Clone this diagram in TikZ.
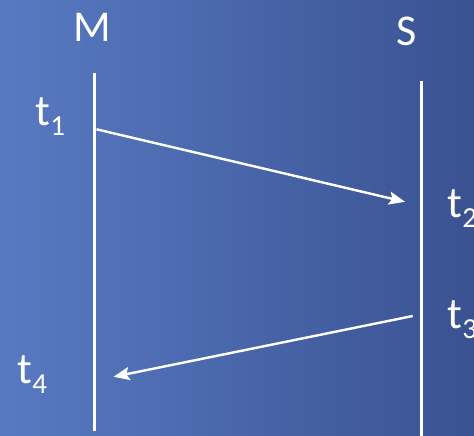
\documentclass[tikz,border=0pt]{standalone}
\usepackage{fontspec}
\setmainfont{Carlito}
\usetikzlibrary{arrows.meta}
\definecolor{bgleft}{RGB}{88,122,194}
\definecolor{bgmid}{RGB}{80,112,180}
\definecolor{bgright}{RGB}{58,82,146}
\tikzset{
  lifeline/.style={draw=white, line width=3pt},
  msg/.style={draw=white, line width=2.4pt, -{Stealth[length=16pt,width=13pt,inset=3pt]}},
  actor/.style={text=white, font=\fontsize{44}{50}\selectfont, inner sep=0pt, anchor=base},
  tlabel/.style={text=white, font=\fontsize{44}{50}\selectfont, inner sep=0pt, anchor=base west},
}
\newcommand{\tsub}[1]{t\raisebox{-10pt}{\fontsize{29}{32}\selectfont #1}}
\begin{document}
\begin{tikzpicture}[x=1pt,y=-1pt]
  \useasboundingbox (0,0) rectangle (474,436);
  \shade[left color=bgleft, middle color=bgmid, right color=bgright] (0,0) rectangle (474,436);
  % actors
  \node[actor] (M) at (92.5,41.5) {M};
  \node[actor] (S) at (407,46) {S};
  % lifelines
  \coordinate (Mtop) at (94.3,73);
  \coordinate (Mbot) at (94.3,431);
  \coordinate (Stop) at (421.7,81);
  \coordinate (Sbot) at (421.7,437);
  \draw[lifeline] (Mtop) -- (Mbot);
  \draw[lifeline] (Stop) -- (Sbot);
  % messages
  \coordinate (a1s) at (96.5,129.3);
  \coordinate (a1e) at (405,201.8);
  \coordinate (a2s) at (412.7,316);
  \coordinate (a2e) at (113.5,376.8);
  \draw[msg] (a1s) -- (a1e);
  \draw[msg] (a2s) -- (a2e);
  % time labels
  \node[tlabel] (t1) at (35.5,125) {\tsub{1}};
  \node[tlabel] (t2) at (447.5,217) {\tsub{2}};
  \node[tlabel] (t3) at (447.5,328) {\tsub{3}};
  \node[tlabel] (t4) at (17.5,383) {\tsub{4}};
\end{tikzpicture}
\end{document}
